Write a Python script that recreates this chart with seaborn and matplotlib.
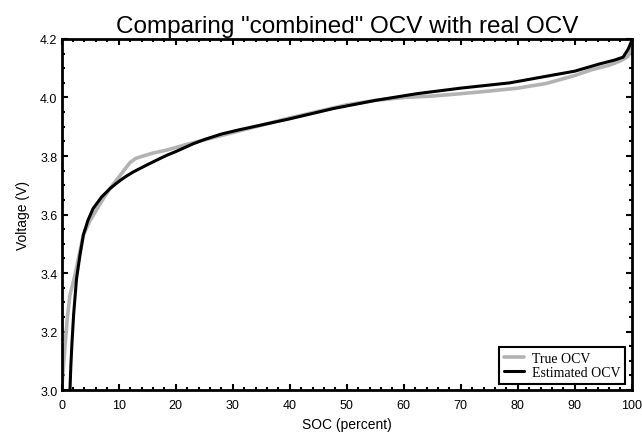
import numpy as np
import pandas as pd
import matplotlib
matplotlib.use("Agg")
import matplotlib.pyplot as plt
from matplotlib.ticker import MultipleLocator
import seaborn as sns

# data
soc_true = [0, 0.3, 0.6, 1.0, 1.45, 2.3, 3.8, 5.0, 7.0, 8.5, 10.5, 12.0, 13.0,
            14.3, 16.0, 18.4, 22, 30, 40, 50, 55, 60, 65, 70, 75, 80, 85, 90,
            93, 96, 98, 99.3, 100]
v_true = [3.0, 3.08, 3.155, 3.25, 3.325, 3.39, 3.53, 3.58, 3.645, 3.69, 3.74,
          3.778, 3.792, 3.80, 3.81, 3.82, 3.84, 3.88, 3.93, 3.975, 3.99, 4.0,
          4.005, 4.013, 4.022, 4.032, 4.048, 4.075, 4.095, 4.11, 4.125, 4.14,
          4.165]

soc_est = [1.45, 1.6, 1.8, 2.1, 2.6, 3.2, 3.8, 4.6, 5.5, 7.0, 8.5, 9.5, 10.5,
           11.5, 12.6, 14.0, 15.0, 17.2, 18.5, 20, 23.1, 25, 28, 31, 34.8, 40,
           47.6, 55, 62.3, 70, 78.6, 85.7, 90, 94.4, 97, 98.5, 99.4, 100]
v_est = [3.0, 3.08, 3.16, 3.26, 3.38, 3.46, 3.53, 3.58, 3.62, 3.66, 3.689,
         3.705, 3.72, 3.733, 3.746, 3.76, 3.77, 3.791, 3.803, 3.815, 3.842,
         3.856, 3.875, 3.889, 3.905, 3.927, 3.962, 3.99, 4.013, 4.032, 4.05,
         4.075, 4.09, 4.115, 4.128, 4.138, 4.166, 4.194]

sns.set_style("ticks")
plt.rcParams["font.family"] = ["Liberation Sans", "DejaVu Sans"]
plt.rcParams["text.color"] = "black"
plt.rcParams["axes.labelcolor"] = "black"

fig = plt.figure(figsize=(6.42, 4.39), dpi=100)
ax = fig.add_axes([0.0961, 0.1093, 0.8879, 0.7996])

sns.lineplot(x=soc_true, y=v_true, ax=ax, color="#b3b3b3", lw=2.6,
             sort=False, estimator=None, label="True OCV")
sns.lineplot(x=soc_est, y=v_est, ax=ax, color="black", lw=2.2,
             sort=False, estimator=None, label="Estimated OCV")

ax.set_xlim(0, 100)
ax.set_ylim(3.0, 4.2)
ax.xaxis.set_major_locator(MultipleLocator(10))
ax.xaxis.set_minor_locator(MultipleLocator(2))
ax.yaxis.set_major_locator(MultipleLocator(0.2))
ax.yaxis.set_minor_locator(MultipleLocator(0.05))
ax.yaxis.set_major_formatter(lambda v, p: f"{v:.1f}")

ax.tick_params(which="both", direction="in", top=True, right=True,
               labelsize=9, colors="black")
ax.tick_params(axis="x", pad=6.5)
ax.tick_params(axis="y", pad=3)
ax.tick_params(which="major", length=4, width=1.5)
ax.tick_params(which="minor", length=2, width=1.5)
for s in ax.spines.values():
    s.set_linewidth(2)
    s.set_color("black")

ax.set_xlabel("SOC (percent)", fontsize=10, labelpad=4)
ax.set_ylabel("Voltage (V)", fontsize=10, labelpad=7)
ax.set_title('Comparing "combined" OCV with real OCV', fontsize=17.5, pad=5)

leg = ax.legend(loc="lower right", prop={"family": "Liberation Serif", "size": 10},
                frameon=True, fancybox=False, edgecolor="black",
                borderaxespad=0.45, handlelength=1.45, labelspacing=0.1,
                borderpad=0.35, handletextpad=0.55)
leg.get_frame().set_linewidth(1.5)
leg.get_frame().set_alpha(1)

fig.savefig("out.png", dpi=100)
